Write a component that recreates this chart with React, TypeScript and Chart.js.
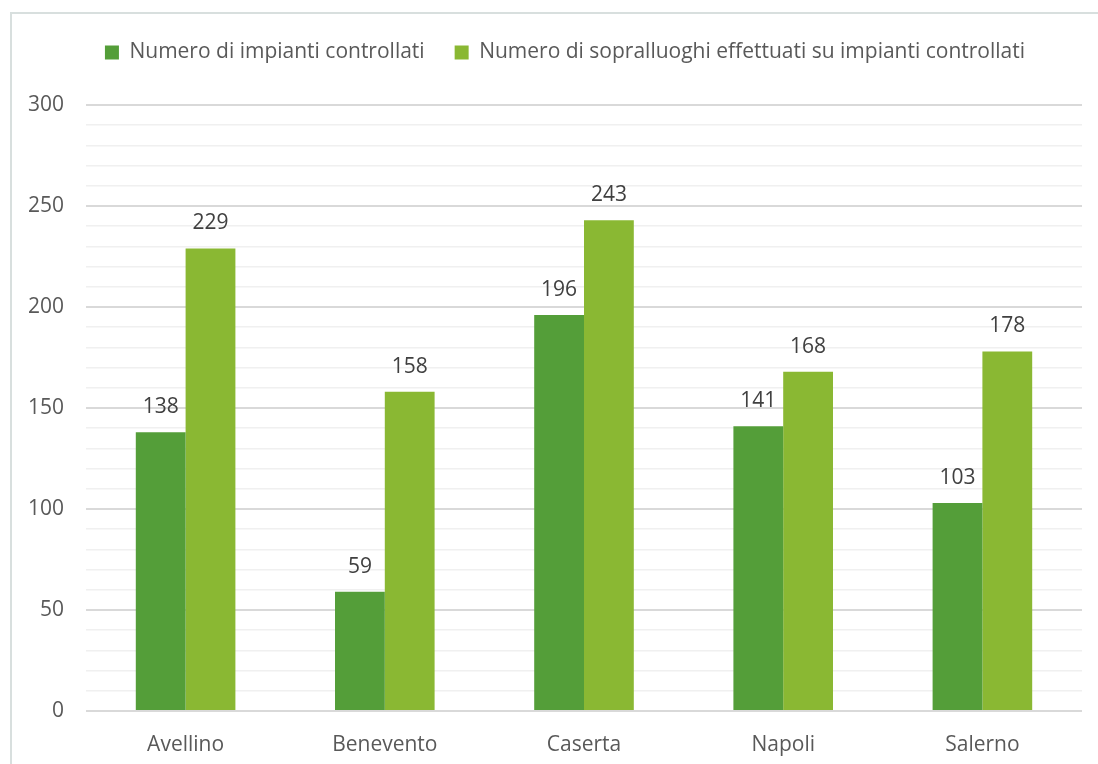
import React, { useEffect, useRef } from "react";
import { Chart, registerables } from "chart.js";

Chart.register(...registerables);

const provinces = ["Avellino", "Benevento", "Caserta", "Napoli", "Salerno"];
const impiantiControllati = [138, 59, 196, 141, 103];
const sopralluoghiEffettuati = [229, 158, 243, 168, 178];
const seriesLabels = [
  "Numero di impianti controllati",
  "Numero di sopralluoghi effettuati su impianti controllati",
];

const FONT = "'Open Sans', sans-serif";
const TEXT = "#595959";
const SIZE = 21;

// Writes each bar's value just above it
const valueLabels = {
  id: "valueLabels",
  afterDatasetsDraw(chart: any) {
    const ctx = chart.ctx;
    ctx.save();
    ctx.fillStyle = "#404040";
    ctx.font = `${SIZE}px ${FONT}`;
    ctx.textAlign = "center";
    ctx.textBaseline = "alphabetic";
    chart.data.datasets.forEach((ds: any, i: number) => {
      const meta = chart.getDatasetMeta(i);
      meta.data.forEach((bar: any, j: number) => {
        ctx.fillText(String(ds.data[j]), bar.x, bar.y - 19);
      });
    });
    ctx.restore();
  },
};

// Extra space below the legend, and the legend centred over the plot area
const legendPlacement = {
  id: "legendPlacement",
  beforeInit(chart: any) {
    const legend = chart.legend;
    const fit = legend.fit;
    legend.fit = function () {
      fit.call(this);
      this.height += 32;
    };
    const draw = legend.draw;
    legend.draw = function () {
      const ctx = this.ctx;
      ctx.save();
      ctx.translate(19, 0);
      draw.call(this);
      ctx.restore();
    };
  },
};

export default function App() {
  const canvasRef = useRef<HTMLCanvasElement>(null);

  useEffect(() => {
    const chart = new Chart(canvasRef.current!, {
      type: "bar",
      data: {
        labels: provinces,
        datasets: [
          {
            label: seriesLabels[0],
            data: impiantiControllati,
            backgroundColor: "#549e39",
            borderWidth: 0,
          },
          {
            label: seriesLabels[1],
            data: sopralluoghiEffettuati,
            backgroundColor: "#8ab833",
            borderWidth: 0,
          },
        ],
      },
      options: {
        animation: false,
        responsive: false,
        layout: { padding: { left: 10, right: 16, top: 12, bottom: 0 } },
        datasets: { bar: { categoryPercentage: 0.5, barPercentage: 1 } },
        plugins: {
          tooltip: { enabled: false },
          legend: {
            position: "top",
            labels: {
              boxWidth: 14,
              boxHeight: 14,
              padding: 30,
              color: TEXT,
              font: { family: FONT, size: SIZE },
            },
          },
        },
        scales: {
          x: {
            grid: { display: false },
            border: { display: false },
            ticks: { color: TEXT, font: { family: FONT, size: SIZE }, padding: 13 },
            afterFit(scale: any) {
              scale.height = 53;
            },
          },
          y: {
            min: 0,
            max: 300,
            border: { display: false },
            grid: {
              color: (c: any) => (c.tick && c.tick.value % 50 === 0 ? "#d9d9d9" : "#f0f0f0"),
              lineWidth: (c: any) => (c.tick && c.tick.value % 50 === 0 ? 2 : 1.5),
              drawTicks: false,
            },
            ticks: {
              stepSize: 10,
              autoSkip: false,
              color: TEXT,
              font: { family: FONT, size: SIZE },
              padding: 22,
              callback: (v: any) => (Number(v) % 50 === 0 ? String(v) : ""),
            },
            afterFit(scale: any) {
              scale.width = 76;
            },
          },
        },
      },
      plugins: [valueLabels, legendPlacement],
    });
    return () => chart.destroy();
  }, []);

  return (
    <div style={{ position: "fixed", left: 0, top: 0, width: 1098, height: 764, background: "#fff", overflow: "hidden" }}>
      <div
        style={{
          position: "absolute",
          left: 10,
          top: 12,
          width: 1200,
          height: 900,
          border: "2px solid #d8dfde",
        }}
      />
      <canvas ref={canvasRef} width={1098} height={764} style={{ position: "absolute", left: 0, top: 0 }} />
    </div>
  );
}
